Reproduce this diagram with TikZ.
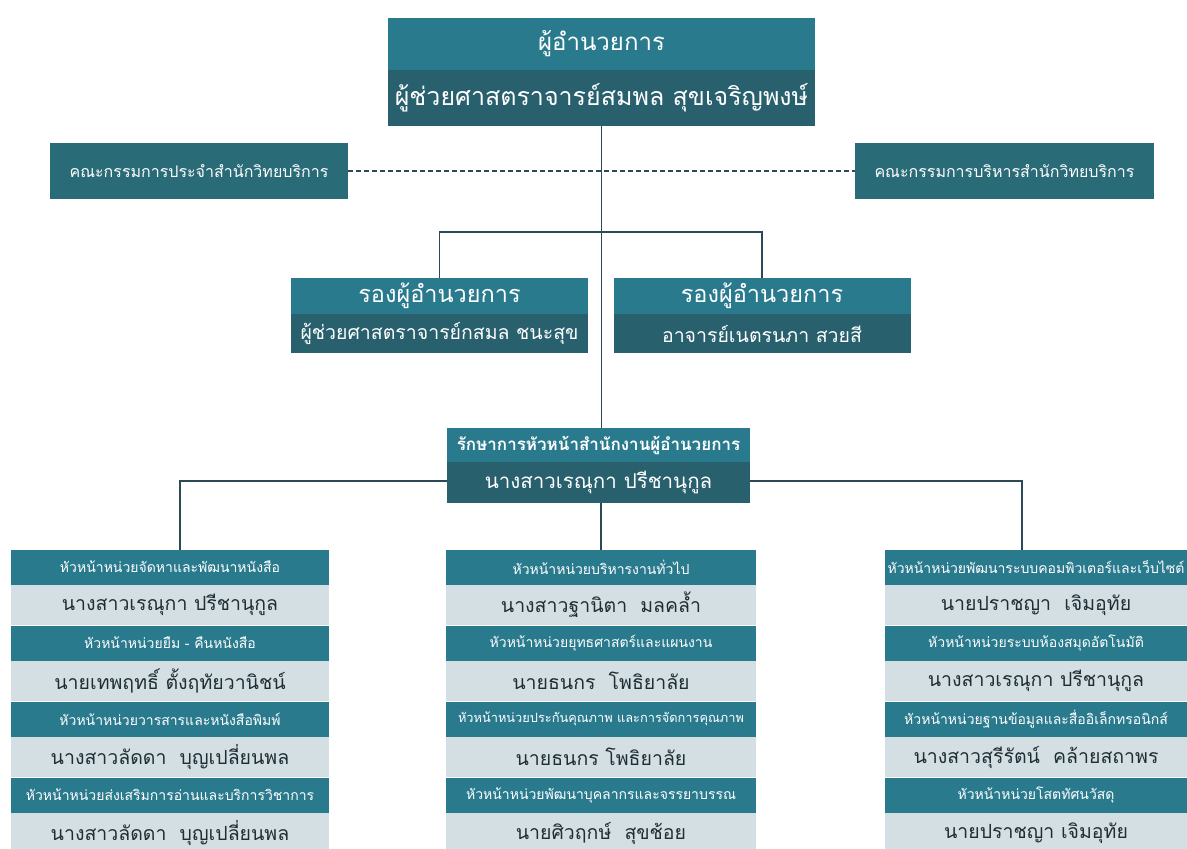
\documentclass[tikz,border=0pt]{standalone}
\usepackage{fontspec}
\setmainfont[Script=Thai]{Loma}
\usetikzlibrary{backgrounds}
\definecolor{tealhead}{HTML}{2A7A8E}
\definecolor{tealdark}{HTML}{28606E}
\definecolor{tealcom}{HTML}{2A6B78}
\definecolor{namegray}{HTML}{D4DFE3}
\definecolor{nametext}{HTML}{1E2E34}
\definecolor{linecol}{HTML}{2C4A55}
\tikzset{headbox/.style={fill=tealhead, text=white, inner sep=0pt, outer sep=0pt}}
\tikzset{darkbox/.style={fill=tealdark, text=white, inner sep=0pt, outer sep=0pt}}
\tikzset{combox/.style={fill=tealcom, text=white, inner sep=0pt, outer sep=0pt,
    minimum height=56pt, font=\fontsize{16}{18}\selectfont}}
\tikzset{namebox/.style={fill=namegray, text=nametext, inner sep=0pt, outer sep=0pt}}
\tikzset{link/.style={draw=linecol, line width=1.7pt}}

\begin{document}
\begin{tikzpicture}[x=1pt,y=-1pt]
  \useasboundingbox (0,0) rectangle (1187,849);

  % director
  \node[headbox, minimum width=427pt, minimum height=52pt,
    font=\fontsize{24}{28}\selectfont] (dirtitle) at (601.5,44) {ผู้อำนวยการ};
  \node[darkbox, minimum width=427pt, minimum height=56pt,
    font=\fontsize{25}{28}\selectfont] (dirname) at (601.5,98) {ผู้ช่วยศาสตราจารย์สมพล สุขเจริญพงษ์};

  % committees
  \node[combox, minimum width=298pt] (comL) at (199,171) {คณะกรรมการประจำสำนักวิทยบริการ};
  \node[combox, minimum width=299pt] (comR) at (1004.5,171) {คณะกรรมการบริหารสำนักวิทยบริการ};

  % deputies
  \foreach \cx/\lab/\name in {
    439.5/depL/ผู้ช่วยศาสตราจารย์กสมล ชนะสุข,
    762/depR/อาจารย์เนตรนภา สวยสี%
  } {
    \node[headbox, minimum width=297pt, minimum height=36pt,
      font=\fontsize{23.5}{26}\selectfont] (\lab t) at (\cx,296) {รองผู้อำนวยการ};
    \node[darkbox, minimum width=297pt, minimum height=39pt,
      font=\fontsize{19.5}{22}\selectfont] (\lab n) at (\cx,333.5) {\name};
  }

  % office head
  \node[headbox, minimum width=303pt, minimum height=34pt,
    font=\fontsize{17}{19}\bfseries\selectfont] (offtitle) at (598.5,445) {รักษาการหัวหน้าสำนักงานผู้อำนวยการ};
  \node[darkbox, minimum width=303pt, minimum height=41pt,
    font=\fontsize{20.5}{24}\selectfont] (offname) at (598.5,482.5) {นางสาวเรณุกา ปรีชานุกูล};

  % units
  \foreach \col/\cx/\w/\i/\head/\name in {
    L/170/318/1/หัวหน้าหน่วยจัดหาและพัฒนาหนังสือ/นางสาวเรณุกา ปรีชานุกูล,
    L/170/318/2/หัวหน้าหน่วยยืม - คืนหนังสือ/นายเทพฤทธิ์ ตั้งฤทัยวานิชน์,
    L/170/318/3/หัวหน้าหน่วยวารสารและหนังสือพิมพ์/นางสาวลัดดา~ บุญเปลี่ยนพล,
    L/170/318/4/หัวหน้าหน่วยส่งเสริมการอ่านและบริการวิชาการ/นางสาวลัดดา~ บุญเปลี่ยนพล,
    M/601/310/1/หัวหน้าหน่วยบริหารงานทั่วไป/นางสาวฐานิตา~ มลคล้ำ,
    M/601/310/2/หัวหน้าหน่วยยุทธศาสตร์และแผนงาน/นายธนกร~ โพธิยาลัย,
    M/601/310/3/{\fontsize{12.8}{15}\selectfont หัวหน้าหน่วยประกันคุณภาพ และการจัดการคุณภาพ}/นายธนกร โพธิยาลัย,
    M/601/310/4/หัวหน้าหน่วยพัฒนาบุคลากรและจรรยาบรรณ/นายศิวฤกษ์~ สุขช้อย,
    R/1036/302/1/หัวหน้าหน่วยพัฒนาระบบคอมพิวเตอร์และเว็บไซต์/นายปราชญา~ เจิมอุทัย,
    R/1036/302/2/หัวหน้าหน่วยระบบห้องสมุดอัตโนมัติ/นางสาวเรณุกา ปรีชานุกูล,
    R/1036/302/3/หัวหน้าหน่วยฐานข้อมูลและสื่ออิเล็กทรอนิกส์/นางสาวสุรีรัตน์~ คล้ายสถาพร,
    R/1036/302/4/หัวหน้าหน่วยโสตทัศนวัสดุ/นายปราชญา เจิมอุทัย%
  } {
    \node[headbox, minimum width=\w pt, minimum height=35pt,
      font=\fontsize{14}{16}\selectfont] (\col h\i) at (\cx,{567+(\i-1)*76}) {\head};
    \node[namebox, minimum width=\w pt, minimum height=40pt,
      font=\fontsize{19.5}{22}\selectfont] (\col n\i) at (\cx,{605+(\i-1)*76}) {\name};
  }

  \coordinate (jL) at (180,481);
  \coordinate (jR) at (1022,481);

  \begin{scope}[on background layer]
    \draw[link] (dirname.south) -- (dirname.south |- offtitle.north);
    \draw[link, dash pattern=on 5pt off 3pt] (comL.east) -- (comR.west);
    \draw[link] (depLt.north) -- ++(0,-46) -| (depRt.north);
    \draw[link] (jL |- Lh1.north) -- (jL) -- (jR) -- (jR |- Rh1.north);
    \draw[link] (Mh1.north |- offname.south) -- (Mh1.north);
  \end{scope}
\end{tikzpicture}
\end{document}
